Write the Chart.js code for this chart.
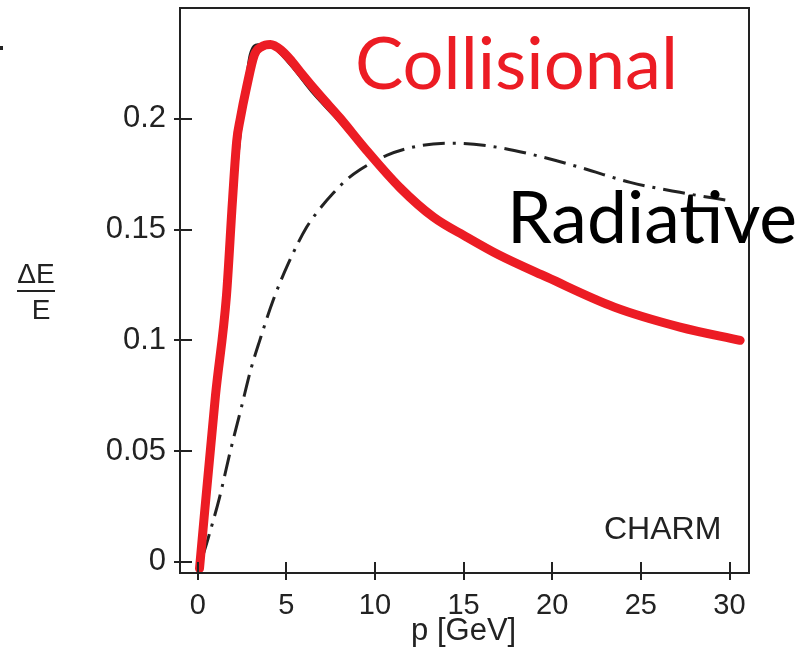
<!DOCTYPE html>
<html>
<head>
<meta charset="utf-8">
<script src="https://cdn.jsdelivr.net/npm/chart.js@4"></script>
<style>
    html, body { margin: 0; padding: 0; background: #fff; }
    #wrap { width: 806px; height: 671px; }
</style>
</head>
<body>
<div id="wrap"><canvas id="c" width="806" height="671"></canvas></div>
<script>
// collisional energy loss (red, hand-drawn overlay)
const collisionalP = [0.1, 1.0, 1.62, 1.96, 2.2, 2.4, 2.75, 3.2, 3.6, 4.1, 4.7, 5.3, 5.8, 6.9, 8.0, 9.5, 11.4, 13.3, 15.2, 17.0, 19.7, 23.5, 27.2, 30.6];
const collisionalDE = [-0.003, 0.075, 0.12, 0.163, 0.19, 0.2, 0.214, 0.229, 0.2325, 0.2335, 0.231, 0.226, 0.221, 0.2105, 0.2006, 0.186, 0.169, 0.1556, 0.1465, 0.1385, 0.1285, 0.115, 0.106, 0.1];

// original thin black curve under the red one
const originalP = [0.0, 1.0, 2.0, 2.5, 2.95, 3.4, 4.2, 5.2, 6.5, 8.0, 9.5, 11.0, 13.0, 15.0, 20.0, 25.0, 30.0];
const originalDE = [0.0, 0.08, 0.16, 0.2, 0.229, 0.2335, 0.2325, 0.2245, 0.2115, 0.1985, 0.1845, 0.1715, 0.157, 0.147, 0.127, 0.111, 0.1];

// radiative energy loss (dash-dot)
const radiativeP = [0.3, 0.6, 1.24, 1.81, 2.47, 3.0, 3.5, 4.25, 5.1, 6.14, 7.0, 7.65, 8.4, 9.15, 10.66, 12.5, 14.4, 16.7, 18.8, 21.6, 24.4, 27.2, 30.05];
const radiativeDE = [0.003, 0.011, 0.0294, 0.049, 0.07, 0.087, 0.1, 0.118, 0.1345, 0.151, 0.1605, 0.1665, 0.1725, 0.177, 0.1835, 0.1878, 0.189, 0.1874, 0.184, 0.178, 0.1713, 0.1668, 0.163];

const xTicks = [0, 5, 10, 15, 20, 25, 30];
const yTicks = [0, 0.05, 0.1, 0.15, 0.2];
const yTickLabels = ["0", "0.05", "0.1", "0.15", "0.2"];

function toPoints(xs, ys) {
    return xs.map((x, i) => ({ x: x, y: ys[i] }));
}

const INK = "#222";
const RED = "#ec1c24";
const SANS = "'Liberation Sans', Arial, sans-serif";

// frame, inward tick marks, titles and the slide annotations
const decorations = {
    id: "decorations",
    afterDatasetsDraw(chart) {
        const ctx = chart.ctx;
        const a = chart.chartArea;
        const xs = chart.scales.x;
        const ys = chart.scales.y;
        ctx.save();
        ctx.strokeStyle = INK;
        ctx.lineWidth = 2;
        ctx.strokeRect(a.left, a.top, a.right - a.left, a.bottom - a.top);

        // inner part of the ticks (outer part comes from chart.js grid)
        ctx.beginPath();
        xTicks.forEach(v => {
            const px = Math.round(xs.getPixelForValue(v));
            ctx.moveTo(px, a.bottom);
            ctx.lineTo(px, a.bottom - 11);
        });
        yTicks.forEach(v => {
            const py = Math.round(ys.getPixelForValue(v));
            ctx.moveTo(a.left, py);
            ctx.lineTo(a.left + 12, py);
        });
        ctx.stroke();

        ctx.fillStyle = INK;
        ctx.font = "31px " + SANS;
        ctx.textAlign = "center";
        ctx.textBaseline = "alphabetic";
        ctx.fillText("p [GeV]", xs.getPixelForValue(15), 640);

        ctx.font = "32px " + SANS;
        ctx.textAlign = "left";
        ctx.fillText("CHARM", 604, 539);

        // y title as a fraction
        ctx.font = "28px " + SANS;
        ctx.textAlign = "center";
        ctx.fillText("\u0394E", 36, 283);
        ctx.fillText("E", 41, 319);
        ctx.beginPath();
        ctx.lineWidth = 2;
        ctx.moveTo(17, 291);
        ctx.lineTo(55, 291);
        ctx.stroke();

        ctx.fillRect(0, 46, 3, 4);

        // slide labels, sized to their width in the picture
        function fitText(txt, x, base, w, color) {
            ctx.font = "100px Lato, 'Open Sans', sans-serif";
            const size = 100 * w / ctx.measureText(txt).width;
            ctx.font = size.toFixed(1) + "px Lato, 'Open Sans', sans-serif";
            ctx.fillStyle = color;
            ctx.textAlign = "left";
            ctx.fillText(txt, x, base);
        }
        fitText("Collisional", 355, 89, 323, RED);
        fitText("Radiative", 507, 243, 290, "#000");
        ctx.restore();
    }
};

const config = {
    type: "line",
    data: {
        datasets: [
            {
                label: "Collisional",
                data: toPoints(collisionalP, collisionalDE),
                borderColor: RED,
                borderWidth: 9,
                cubicInterpolationMode: "monotone",
                borderCapStyle: "round",
                borderJoinStyle: "round",
                pointRadius: 0,
                order: 0
            },
            {
                label: "Original",
                data: toPoints(originalP, originalDE),
                borderColor: INK,
                borderWidth: 2.5,
                cubicInterpolationMode: "monotone",
                pointRadius: 0,
                order: 1
            },
            {
                label: "Radiative",
                data: toPoints(radiativeP, radiativeDE),
                borderColor: INK,
                borderWidth: 3,
                borderDash: [22, 8, 3, 8],
                cubicInterpolationMode: "monotone",
                pointRadius: 0,
                order: 2
            }
        ]
    },
    options: {
        responsive: false,
        animation: false,
        layout: { padding: { left: 0, top: 8, right: 57, bottom: 0 } },
        plugins: {
            legend: { display: false },
            tooltip: { enabled: false }
        },
        scales: {
            x: {
                type: "linear",
                min: -1.0,
                max: 31.1,
                afterBuildTicks: function (axis) {
                    axis.ticks = xTicks.map(v => ({ value: v }));
                },
                afterFit: function (scale) {
                    scale.height = 98;
                    scale.paddingLeft = 0;
                    scale.paddingRight = 0;
                },
                grid: { display: true, drawOnChartArea: false, drawTicks: true, tickLength: 7, color: INK, lineWidth: 2 },
                border: { display: false },
                ticks: {
                    color: INK,
                    padding: 9,
                    maxRotation: 0,
                    font: { family: SANS, size: 29 },
                    callback: v => String(v)
                }
            },
            y: {
                type: "linear",
                min: -0.005,
                max: 0.25,
                afterBuildTicks: function (axis) {
                    axis.ticks = yTicks.map(v => ({ value: v }));
                },
                afterFit: function (scale) {
                    scale.width = 180;
                    scale.paddingTop = 0;
                    scale.paddingBottom = 0;
                },
                grid: { display: true, drawOnChartArea: false, drawTicks: true, tickLength: 6, color: INK, lineWidth: 2 },
                border: { display: false },
                ticks: {
                    color: INK,
                    padding: 8,
                    font: { family: SANS, size: 31 },
                    callback: function (v) {
                        const i = yTicks.indexOf(v);
                        return i >= 0 ? yTickLabels[i] : "";
                    }
                }
            }
        }
    },
    plugins: [decorations]
};

new Chart(document.getElementById("c").getContext("2d"), config);
</script>
</body>
</html>
